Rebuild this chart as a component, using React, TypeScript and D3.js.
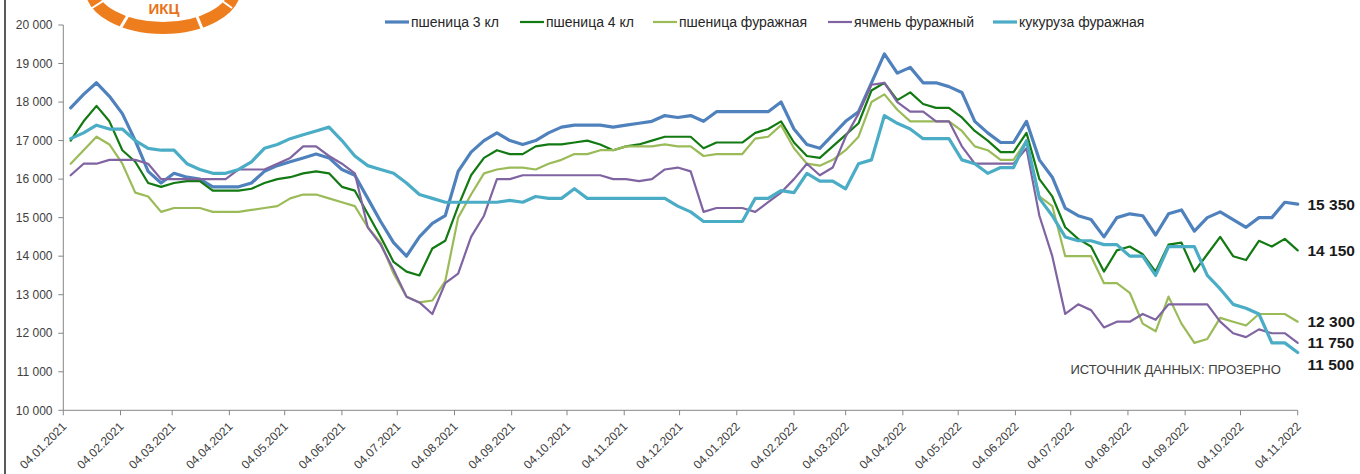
import React from 'react';
import * as d3 from 'd3';

// weekly prices, rub/t — first week 08.01.2021, last 04.11.2022
const FIRST_WEEK = '08.01.2021';

const WHEAT_3 = [
  17850, 18200, 18500, 18150, 17700, 17000, 16200, 15900, 16150, 16050, 16000, 15800,
  15800, 15800, 15900, 16200, 16350, 16450, 16550, 16650, 16550, 16250, 16100, 15500,
  14900, 14350, 14000, 14500, 14850, 15050, 16200, 16700, 17000, 17200, 17000, 16900,
  17000, 17200, 17350, 17400, 17400, 17400, 17350, 17400, 17450, 17500, 17650, 17600,
  17650, 17500, 17750, 17750, 17750, 17750, 17750, 18000, 17300, 16900, 16800, 17150,
  17500, 17750, 18500, 19250, 18750, 18900, 18500, 18500, 18400, 18250, 17500, 17200,
  16950, 16950, 17500, 16500, 16050, 15250, 15050, 14950, 14500, 15000, 15100, 15050,
  14550, 15100, 15200, 14650, 15000, 15150, 14950, 14750, 15000, 15000, 15400, 15350,
];

const WHEAT_4 = [
  17000, 17500, 17900, 17500, 16750, 16450, 15900, 15800, 15900, 15950, 15950, 15700,
  15700, 15700, 15750, 15900, 16000, 16050, 16150, 16200, 16150, 15800, 15700, 15100,
  14500, 13850, 13600, 13500, 14200, 14400, 15300, 16100, 16550, 16750, 16650, 16650,
  16850, 16900, 16900, 16950, 17000, 16900, 16750, 16850, 16900, 17000, 17100, 17100,
  17100, 16800, 16950, 16950, 16950, 17200, 17300, 17500, 16950, 16600, 16550, 16850,
  17150, 17450, 18300, 18500, 18050, 18250, 17950, 17850, 17850, 17600, 17250, 17000,
  16700, 16700, 17200, 16000, 15550, 14750, 14450, 14250, 13600, 14150, 14250, 14050,
  13600, 14300, 14350, 13600, 14050, 14500, 14000, 13900, 14400, 14250, 14450, 14150,
];

const WHEAT_FEED = [
  16400, 16750, 17100, 16900, 16400, 15650, 15550, 15150, 15250, 15250, 15250, 15150,
  15150, 15150, 15200, 15250, 15300, 15500, 15600, 15600, 15500, 15400, 15300, 14750,
  14350, 13550, 12950, 12800, 12850, 13350, 15000, 15600, 16150, 16250, 16300, 16300,
  16250, 16400, 16500, 16650, 16650, 16750, 16750, 16850, 16850, 16850, 16900, 16850,
  16850, 16600, 16650, 16650, 16650, 17050, 17100, 17400, 16800, 16400, 16350, 16500,
  16750, 17100, 18000, 18200, 17800, 17500, 17500, 17500, 17500, 17250, 16850, 16750,
  16500, 16500, 17000, 15550, 15300, 14000, 14000, 14000, 13300, 13300, 13050, 12250,
  12050, 12950, 12250, 11750, 11850, 12400, 12300, 12200, 12500, 12500, 12500, 12300,
];

const BARLEY_FEED = [
  16100, 16400, 16400, 16500, 16500, 16500, 16400, 16000, 16000, 16000, 16000, 16000,
  16000, 16250, 16250, 16250, 16400, 16550, 16850, 16850, 16600, 16400, 16150, 14750,
  14300, 13650, 12950, 12800, 12500, 13300, 13550, 14500, 15050, 16000, 16000, 16100,
  16100, 16100, 16100, 16100, 16100, 16100, 16000, 16000, 15950, 16000, 16250, 16300,
  16200, 15150, 15250, 15250, 15250, 15150, 15400, 15650, 16000, 16400, 16100, 16300,
  17100, 17700, 18450, 18500, 18000, 17750, 17750, 17500, 17500, 16850, 16400, 16400,
  16400, 16400, 16800, 15050, 14000, 12500, 12750, 12600, 12150, 12300, 12300, 12500,
  12350, 12750, 12750, 12750, 12750, 12300, 12000, 11900, 12100, 12000, 12000, 11750,
];

const CORN_FEED = [
  17050, 17200, 17400, 17300, 17300, 17000, 16800, 16750, 16750, 16400, 16250, 16150,
  16150, 16250, 16450, 16800, 16900, 17050, 17150, 17250, 17350, 17000, 16600, 16350,
  16250, 16150, 15900, 15600, 15500, 15400, 15400, 15400, 15400, 15400, 15450, 15400,
  15550, 15500, 15500, 15750, 15500, 15500, 15500, 15500, 15500, 15500, 15500, 15300,
  15150, 14900, 14900, 14900, 14900, 15500, 15500, 15700, 15650, 16150, 15950, 15950,
  15750, 16400, 16500, 17650, 17450, 17300, 17050, 17050, 17050, 16500, 16400, 16150,
  16300, 16300, 17000, 15500, 15050, 14500, 14400, 14400, 14300, 14300, 14000, 14000,
  13500, 14250, 14250, 14250, 13500, 13150, 12750, 12650, 12500, 11750, 11750, 11500,
];

const SERIES_NAMES = ['пшеница 3 кл', 'пшеница 4 кл', 'пшеница фуражная', 'ячмень фуражный', 'кукуруза фуражная'];

const TICK_LABELS = [
  '04.01.2021', '04.02.2021', '04.03.2021', '04.04.2021', '04.05.2021', '04.06.2021',
  '04.07.2021', '04.08.2021', '04.09.2021', '04.10.2021', '04.11.2021', '04.12.2021',
  '04.01.2022', '04.02.2022', '04.03.2022', '04.04.2022', '04.05.2022', '04.06.2022',
  '04.07.2022', '04.08.2022', '04.09.2022', '04.10.2022', '04.11.2022',
];

const Y_TICKS = [10000, 11000, 12000, 13000, 14000, 15000, 16000, 17000, 18000, 19000, 20000];

const SOURCE_NOTE = 'ИСТОЧНИК ДАННЫХ: ПРОЗЕРНО';

// styles, drawn in this order (corn ends on top, like Excel)
const STYLES = [
  { color: '#4F81BD', width: 3.2 },
  { color: '#137A13', width: 2.2 },
  { color: '#9BBB59', width: 2.2 },
  { color: '#8064A2', width: 2.2 },
  { color: '#4BACC6', width: 3.2 },
];
const LEGEND_X = [385, 520, 653, 828, 993];

const parse = d3.timeParse('%d.%m.%Y');
const fmt = d3.formatLocale({ decimal: ',', thousands: ' ', grouping: [3], currency: ['', ''] }).format(',');
const FONT = '"Liberation Sans", Arial, sans-serif';

export default function App() {
  const W = 1360;
  const H = 474;
  const series = [WHEAT_3, WHEAT_4, WHEAT_FEED, BARLEY_FEED, CORN_FEED];

  const start = parse(FIRST_WEEK) as Date;
  const dates = WHEAT_3.map((_, i) => d3.timeDay.offset(start, 7 * i));
  const ticks = TICK_LABELS.map(s => parse(s) as Date);

  const x = d3.scaleTime().domain([ticks[0], ticks[ticks.length - 1]]).range([63.3, 1297.7]);
  const y = d3.scaleLinear().domain([10000, 20000]).range([410.3, 25]);

  const line = d3.line<number>()
    .x((_, i) => x(dates[i]))
    .y(d => y(d));

  // end-of-line value labels, nudged apart so they don't collide
  const ends = series
    .map((s, i) => ({ i, v: s[s.length - 1], ly: y(s[s.length - 1]) }))
    .sort((a, b) => a.ly - b.ly);
  for (let k = 1; k < ends.length; k++) {
    if (ends[k].ly - ends[k - 1].ly < 21) ends[k].ly = ends[k - 1].ly + 22;
  }

  const [x0, x1] = x.range();
  const [yBottom, yTop] = y.range();

  return (
    <svg width={W} height={H} style={{ position: 'absolute', left: 0, top: 0, background: '#fff' }} fontFamily={FONT}>
      {/* logo, cut by the top edge */}
      <g>
        <ellipse cx={163} cy={-12} rx={72} ry={40} fill="none" stroke="#EE7D1E" strokeWidth={12} />
        <line x1={118} y1={32} x2={130} y2={12} stroke="#fff" strokeWidth={3} />
        <line x1={205} y1={36} x2={196} y2={14} stroke="#fff" strokeWidth={3} />
        <line x1={92} y1={8} x2={108} y2={-2} stroke="#fff" strokeWidth={2} />
        <line x1={232} y1={8} x2={218} y2={-2} stroke="#fff" strokeWidth={2} />
        <text x={164} y={14} textAnchor="middle" fontSize={15} fontWeight={700} fill="#E8731A">ИКЦ</text>
      </g>

      {/* left frame edge */}
      <line x1={5} y1={0} x2={5} y2={H} stroke="#595959" strokeWidth={2} />

      {/* y axis */}
      <line x1={x0} y1={yTop} x2={x0} y2={yBottom} stroke="#868686" />
      {Y_TICKS.map(t => (
        <g key={t}>
          <line x1={x0 - 5} x2={x0} y1={y(t)} y2={y(t)} stroke="#868686" />
          <text x={52.5} y={y(t)} dy="0.35em" textAnchor="end" fontSize={12} fill="#404040">{fmt(t)}</text>
        </g>
      ))}

      {/* x axis */}
      <line x1={x0} y1={yBottom} x2={x1} y2={yBottom} stroke="#868686" />
      {ticks.map((t, i) => (
        <g key={TICK_LABELS[i]}>
          <line x1={x(t)} x2={x(t)} y1={yBottom} y2={yBottom + 5} stroke="#868686" />
          <text
            transform={`translate(${x(t) + 4},${yBottom + 17}) rotate(-45)`}
            textAnchor="end"
            fontSize={12}
            fill="#404040"
          >
            {TICK_LABELS[i]}
          </text>
        </g>
      ))}

      {/* series */}
      {series.map((s, i) => (
        <path
          key={SERIES_NAMES[i]}
          d={line(s) ?? ''}
          fill="none"
          stroke={STYLES[i].color}
          strokeWidth={STYLES[i].width}
          strokeLinejoin="round"
          strokeLinecap="round"
        />
      ))}

      {/* legend */}
      {SERIES_NAMES.map((name, i) => (
        <g key={name} transform={`translate(${LEGEND_X[i]},22)`}>
          <line x1={0} x2={24} y1={0} y2={0} stroke={STYLES[i].color} strokeWidth={STYLES[i].width} />
          <text x={26} y={0} dy="0.35em" fontSize={14} fill="#262626">{name}</text>
        </g>
      ))}

      {/* end values */}
      {ends.map(e => (
        <text key={e.i} x={1307.5} y={e.ly} dy="0.36em" fontSize={15.5} fontWeight={700} fill="#1a1a1a">
          {fmt(e.v)}
        </text>
      ))}

      <text x={1070.5} y={369.5} dy="0.35em" fontSize={13} fill="#404040">{SOURCE_NOTE}</text>
    </svg>
  );
}
